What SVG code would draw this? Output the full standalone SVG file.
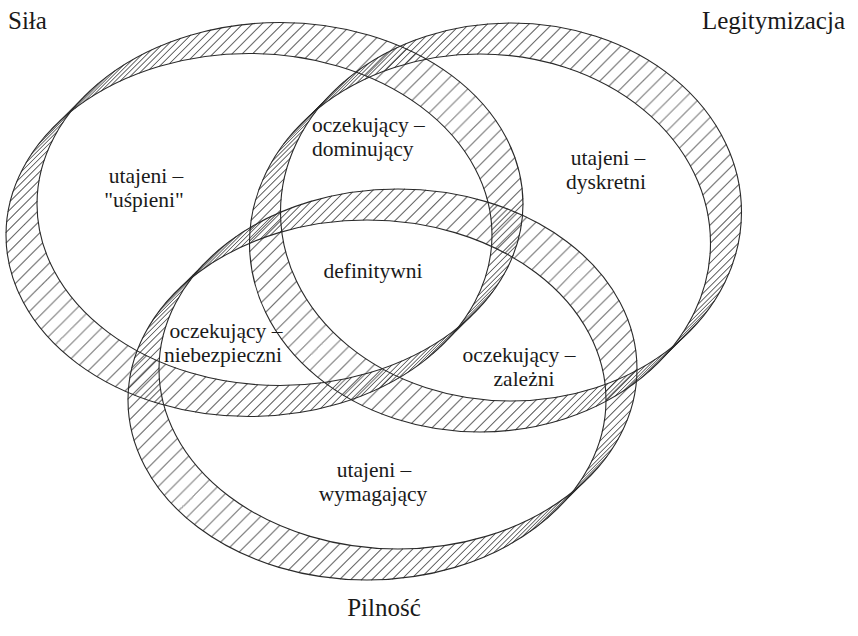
<svg xmlns="http://www.w3.org/2000/svg" width="858" height="636" viewBox="0 0 858 636">
<defs>
  <ellipse id="a0" fill="none" stroke="#222" stroke-width="0.8" stroke-dasharray="0.01 10.5" stroke-linecap="round" cx="249" cy="235" rx="243" ry="181.5"/>
  <g id="a1"><use href="#a0"/><use href="#a0" transform="translate(0.492,-0.492)"/></g>
  <g id="a2"><use href="#a1"/><use href="#a1" transform="translate(0.984,-0.984)"/></g>
  <g id="a3"><use href="#a2"/><use href="#a2" transform="translate(1.968,-1.968)"/></g>
  <g id="a4"><use href="#a3"/><use href="#a3" transform="translate(3.937,-3.937)"/></g>
  <g id="a5"><use href="#a4"/><use href="#a4" transform="translate(7.873,-7.873)"/></g>
  <g id="a6"><use href="#a5"/><use href="#a5" transform="translate(15.746,-15.746)"/></g>
  <ellipse id="b0" fill="none" stroke="#222" stroke-width="0.8" stroke-dasharray="0.01 10.5" stroke-linecap="round" cx="480" cy="243" rx="230.5" ry="189"/>
  <g id="b1"><use href="#b0"/><use href="#b0" transform="translate(0.492,-0.492)"/></g>
  <g id="b2"><use href="#b1"/><use href="#b1" transform="translate(0.984,-0.984)"/></g>
  <g id="b3"><use href="#b2"/><use href="#b2" transform="translate(1.968,-1.968)"/></g>
  <g id="b4"><use href="#b3"/><use href="#b3" transform="translate(3.937,-3.937)"/></g>
  <g id="b5"><use href="#b4"/><use href="#b4" transform="translate(7.873,-7.873)"/></g>
  <g id="b6"><use href="#b5"/><use href="#b5" transform="translate(15.746,-15.746)"/></g>
  <ellipse id="c0" fill="none" stroke="#222" stroke-width="0.8" stroke-dasharray="0.01 10.5" stroke-linecap="round" cx="367" cy="400" rx="239" ry="180"/>
  <g id="c1"><use href="#c0"/><use href="#c0" transform="translate(0.492,-0.492)"/></g>
  <g id="c2"><use href="#c1"/><use href="#c1" transform="translate(0.984,-0.984)"/></g>
  <g id="c3"><use href="#c2"/><use href="#c2" transform="translate(1.968,-1.968)"/></g>
  <g id="c4"><use href="#c3"/><use href="#c3" transform="translate(3.937,-3.937)"/></g>
  <g id="c5"><use href="#c4"/><use href="#c4" transform="translate(7.873,-7.873)"/></g>
  <g id="c6"><use href="#c5"/><use href="#c5" transform="translate(15.746,-15.746)"/></g>
</defs>
<rect width="858" height="636" fill="#ffffff"/>

<g id="ring-sila" fill="none" stroke="#2a2a2a" stroke-width="1.1">
  <use href="#a6"/>
  <ellipse cx="249" cy="235" rx="243" ry="181.5"/>
  <ellipse cx="280" cy="204" rx="243" ry="181.5"/>
</g>
<g id="ring-legitymizacja" fill="none" stroke="#2a2a2a" stroke-width="1.1">
  <use href="#b6"/>
  <ellipse cx="480" cy="243" rx="230.5" ry="189"/>
  <ellipse cx="511" cy="212" rx="230.5" ry="189"/>
</g>
<g id="ring-pilnosc" fill="none" stroke="#2a2a2a" stroke-width="1.1">
  <use href="#c6"/>
  <ellipse cx="367" cy="400" rx="239" ry="180"/>
  <ellipse cx="398" cy="369" rx="239" ry="180"/>
</g>

<g id="titles" fill="#1a1a1a">
  <text x="8" y="29" font-family="Liberation Serif" font-size="25">Siła</text>
  <text x="702" y="29" font-family="Liberation Serif" font-size="25">Legitymizacja</text>
  <text x="384" y="616" font-family="Liberation Serif" font-size="25" text-anchor="middle">Pilność</text>
</g>
<g id="labels" fill="#1a1a1a">
  <text x="146" y="183" font-family="Liberation Serif" font-size="21.5" text-anchor="middle">utajeni –</text>
  <text x="144" y="207" font-family="Liberation Serif" font-size="21.5" text-anchor="middle">"uśpieni"</text>
  <text x="312" y="132" font-family="Liberation Serif" font-size="21.5">oczekujący –</text>
  <text x="312" y="156" font-family="Liberation Serif" font-size="21.5">dominujący</text>
  <text x="608" y="165" font-family="Liberation Serif" font-size="21.5" text-anchor="middle">utajeni –</text>
  <text x="606" y="189" font-family="Liberation Serif" font-size="21.5" text-anchor="middle">dyskretni</text>
  <text x="373" y="278" font-family="Liberation Serif" font-size="21.5" text-anchor="middle">definitywni</text>
  <text x="226" y="338" font-family="Liberation Serif" font-size="21.5" text-anchor="middle">oczekujący –</text>
  <text x="223" y="362" font-family="Liberation Serif" font-size="21.5" text-anchor="middle">niebezpieczni</text>
  <text x="519" y="362" font-family="Liberation Serif" font-size="21.5" text-anchor="middle">oczekujący –</text>
  <text x="524" y="386" font-family="Liberation Serif" font-size="21.5" text-anchor="middle">zależni</text>
  <text x="374" y="477" font-family="Liberation Serif" font-size="21.5" text-anchor="middle">utajeni –</text>
  <text x="373" y="501" font-family="Liberation Serif" font-size="21.5" text-anchor="middle">wymagający</text>
</g>
</svg>
